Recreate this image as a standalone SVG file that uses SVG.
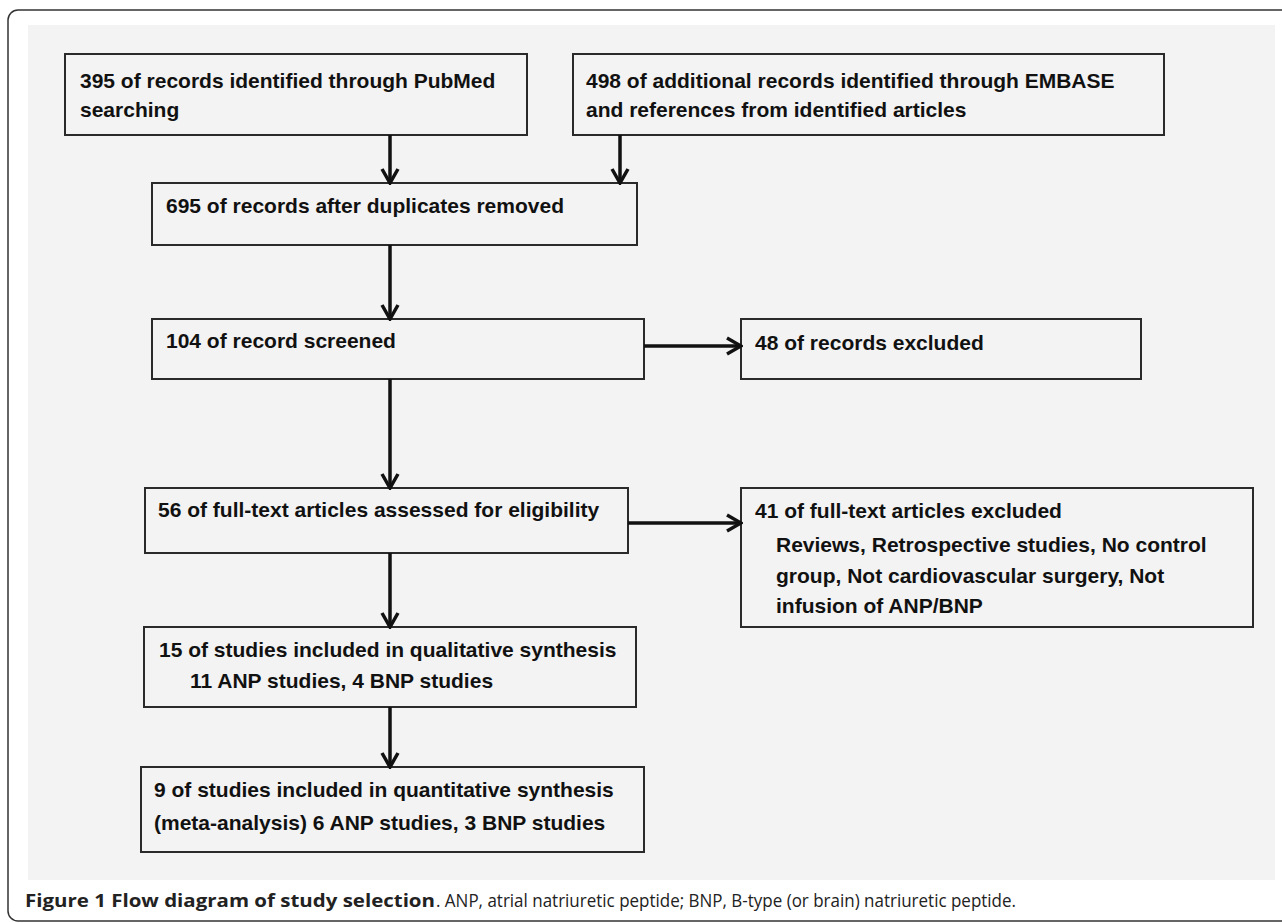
<svg xmlns="http://www.w3.org/2000/svg" width="1282" height="923" viewBox="0 0 1282 923">
<style>
.box{fill:none;stroke:#2a2a2a;stroke-width:2}
.t{font-family:"Liberation Sans",Arial,sans-serif;font-weight:bold;font-size:21px;fill:#111}
.cap{font-family:"Open Sans","Liberation Sans",sans-serif;font-size:18px;fill:#222}
.conn{stroke:#111;stroke-width:3.5;fill:none}
</style>
<defs>
<marker id="ah" markerUnits="userSpaceOnUse" viewBox="0 0 20 20" markerWidth="20" markerHeight="20" refX="18" refY="10" orient="auto">
<path d="M4,2 L18,10 L4,18" fill="none" stroke="#111" stroke-width="3.5"/>
</marker>
</defs>
<rect x="0" y="0" width="1282" height="923" fill="#ffffff"/>
<rect x="8" y="10" width="1300" height="911" rx="10" fill="none" stroke="#333" stroke-width="1.5"/>
<rect x="28" y="25" width="1247" height="855" fill="#f3f3f3"/>

<g id="n1"><rect class="box" x="65" y="54" width="462" height="81"/>
<text class="t" x="80" y="88">395 of records identified through PubMed</text>
<text class="t" x="80" y="117">searching</text></g>

<g id="n2"><rect class="box" x="573" y="54" width="591" height="81"/>
<text class="t" x="586" y="88">498 of additional records identified through EMBASE</text>
<text class="t" x="586" y="117">and references from identified articles</text></g>

<g id="n3"><rect class="box" x="152" y="183" width="485" height="62"/>
<text class="t" x="166" y="213">695 of records after duplicates removed</text></g>

<g id="n4"><rect class="box" x="152" y="319" width="492" height="60"/>
<text class="t" x="166" y="348">104 of record screened</text></g>

<g id="n5"><rect class="box" x="741" y="319" width="400" height="60"/>
<text class="t" x="755" y="350">48 of records excluded</text></g>

<g id="n6"><rect class="box" x="145" y="488" width="483" height="65"/>
<text class="t" x="158" y="517">56 of full-text articles assessed for eligibility</text></g>

<g id="n7"><rect class="box" x="741" y="488" width="512" height="139"/>
<text class="t" x="755" y="518">41 of full-text articles excluded</text>
<text class="t" x="776" y="552">Reviews, Retrospective studies, No control</text>
<text class="t" x="776" y="583">group, Not cardiovascular surgery, Not</text>
<text class="t" x="776" y="613">infusion of ANP/BNP</text></g>

<g id="n8"><rect class="box" x="144" y="627" width="492" height="80"/>
<text class="t" x="159" y="657">15 of studies included in qualitative synthesis</text>
<text class="t" x="190" y="688">11 ANP studies, 4 BNP studies</text></g>

<g id="n9"><rect class="box" x="141" y="767" width="503" height="85"/>
<text class="t" x="154" y="797">9 of studies included in quantitative synthesis</text>
<text class="t" x="154" y="830">(meta-analysis) 6 ANP studies, 3 BNP studies</text></g>

<g id="connectors">
<line class="conn" x1="390" y1="135" x2="390" y2="183" marker-end="url(#ah)"/>
<line class="conn" x1="620" y1="135" x2="620" y2="183" marker-end="url(#ah)"/>
<line class="conn" x1="390" y1="245" x2="390" y2="319" marker-end="url(#ah)"/>
<line class="conn" x1="644" y1="346" x2="741" y2="346" marker-end="url(#ah)"/>
<line class="conn" x1="390" y1="379" x2="390" y2="488" marker-end="url(#ah)"/>
<line class="conn" x1="628" y1="523" x2="741" y2="523" marker-end="url(#ah)"/>
<line class="conn" x1="390" y1="553" x2="390" y2="627" marker-end="url(#ah)"/>
<line class="conn" x1="390" y1="707" x2="390" y2="767" marker-end="url(#ah)"/>
</g>

<text class="cap" x="25" y="907" font-weight="bold" textLength="410" lengthAdjust="spacingAndGlyphs">Figure 1 Flow diagram of study selection</text>
<text class="cap" x="436" y="907" textLength="580" lengthAdjust="spacingAndGlyphs">. ANP, atrial natriuretic peptide; BNP, B-type (or brain) natriuretic peptide.</text>
</svg>
